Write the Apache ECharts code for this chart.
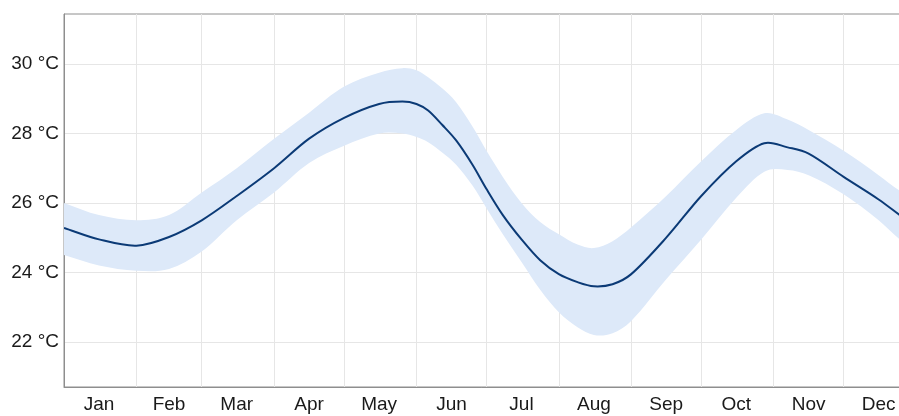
<!DOCTYPE html>
<html>
<head>
<meta charset="utf-8">
<title>Average temperature by day of year</title>
<script src="https://cdn.jsdelivr.net/npm/echarts@6/dist/echarts.min.js"></script>
<style>
  html, body { margin: 0; padding: 0; background: #fff; }
  #chart { width: 899px; height: 416px; }
</style>
</head>
<body>
<div id="chart"></div>
<script>
// Day of year (0 = 1 Jan) for each sampled point
const days = [0, 15, 31, 45, 59, 74, 90, 105, 120, 135, 145, 151, 156, 162, 168, 175, 181, 188, 196, 204, 212, 220, 227, 235, 243, 258, 273, 288, 300, 310, 319, 334, 349, 358, 365];

// Average daily temperature (°C)
const meanTemp = [25.28, 24.95, 24.77, 25.02, 25.5, 26.2, 27.0, 27.85, 28.45, 28.85, 28.92, 28.85, 28.66, 28.25, 27.8, 27.1, 26.4, 25.65, 24.95, 24.35, 23.95, 23.72, 23.6, 23.66, 23.95, 25.0, 26.2, 27.2, 27.72, 27.6, 27.42, 26.75, 26.1, 25.65, 25.3];

// Upper and lower edge of the typical range (°C)
const upperTemp = [26.0, 25.65, 25.5, 25.65, 26.3, 27.0, 27.85, 28.6, 29.35, 29.75, 29.88, 29.82, 29.62, 29.3, 28.9, 28.2, 27.5, 26.75, 26.0, 25.45, 25.1, 24.8, 24.7, 24.9, 25.3, 26.2, 27.2, 28.1, 28.58, 28.4, 28.1, 27.5, 26.8, 26.35, 26.1];
const lowerTemp = [24.5, 24.2, 24.05, 24.1, 24.6, 25.5, 26.3, 27.15, 27.65, 28.0, 28.0, 27.9, 27.75, 27.45, 27.1, 26.5, 25.85, 25.1, 24.3, 23.5, 22.85, 22.42, 22.2, 22.25, 22.6, 23.8, 24.95, 26.15, 26.9, 26.95, 26.8, 26.25, 25.5, 24.95, 24.6];

// Month names, where each month starts and where its label sits
const monthNames = ['Jan', 'Feb', 'Mar', 'Apr', 'May', 'Jun', 'Jul', 'Aug', 'Sep', 'Oct', 'Nov', 'Dec'];
const monthStarts = [0, 31, 59, 90, 120, 151, 181, 212, 243, 273, 304, 334, 365];
const monthMids = [15, 45, 74, 105, 135, 166, 196, 227, 258, 288, 319, 349];

// Y tick labels
const tempTicks = [22, 24, 26, 28, 30];

const FONT = "'Liberation Sans', Arial, sans-serif";

// Smooth curve through pixel points (cubic Hermite with central-difference
// tangents, written as cubic Bézier segments). `move` starts a new subpath.
function curvePath(pts, move) {
  const n = pts.length;
  const slope = i => {
    const a = pts[Math.max(0, i - 1)], b = pts[Math.min(n - 1, i + 1)];
    return (b[1] - a[1]) / (b[0] - a[0]);
  };
  let d = (move ? 'M' : 'L') + pts[0][0].toFixed(2) + ' ' + pts[0][1].toFixed(2);
  for (let i = 0; i < n - 1; i++) {
    const p = pts[i], q = pts[i + 1];
    const h = (q[0] - p[0]) / 3;
    const c1 = [p[0] + h, p[1] + slope(i) * h];
    const c2 = [q[0] - h, q[1] - slope(i + 1) * h];
    d += ' C' + c1.map(v => v.toFixed(2)).join(' ') + ' ' +
         c2.map(v => v.toFixed(2)).join(' ') + ' ' +
         q.map(v => v.toFixed(2)).join(' ');
  }
  return d;
}

function rangeItem(params, api) {
  if (params.dataIndex !== 0) return null;
  const up = days.map((d, i) => api.coord([d, upperTemp[i]]));
  const lo = days.map((d, i) => api.coord([d, lowerTemp[i]])).reverse();
  return {
    type: 'path',
    shape: { pathData: curvePath(up, true) + ' ' + curvePath(lo, false) + ' Z' },
    style: { fill: '#dde9f9', stroke: null }
  };
}

function meanItem(params, api) {
  if (params.dataIndex !== 0) return null;
  const pts = days.map((d, i) => api.coord([d, meanTemp[i]]));
  return {
    type: 'path',
    shape: { pathData: curvePath(pts, true) },
    style: { fill: null, stroke: '#0b3a76', lineWidth: 2, lineJoin: 'round' }
  };
}

const chart = echarts.init(document.getElementById('chart'), null, { renderer: 'canvas' });
chart.setOption({
  animation: false,
  backgroundColor: '#ffffff',
  grid: {
    left: 64, top: 14, bottom: 29, width: 852,
    outerBoundsMode: 'none',
    containLabel: false,
    show: true, borderColor: '#8e8e8e', borderWidth: 1, backgroundColor: 'transparent'
  },
  xAxis: {
    type: 'value',
    min: 0, max: 365,
    axisLine: { show: true, lineStyle: { color: '#8e8e8e', width: 1 } },
    axisTick: { show: false, customValues: monthStarts },
    splitLine: { show: true, lineStyle: { color: '#e6e6e6', width: 1 } },
    axisLabel: {
      customValues: monthMids,
      margin: 8,
      color: '#1a1a1a',
      fontFamily: FONT,
      fontSize: 19,
      formatter: v => monthNames[monthMids.indexOf(v)]
    }
  },
  yAxis: {
    type: 'value',
    min: 20.7, max: 31.44,
    axisLine: { show: true, lineStyle: { color: '#8e8e8e', width: 1 } },
    axisTick: { show: false, customValues: tempTicks },
    splitLine: { show: true, lineStyle: { color: '#e6e6e6', width: 1 } },
    axisLabel: {
      customValues: tempTicks,
      margin: 5,
      color: '#1a1a1a',
      fontFamily: FONT,
      fontSize: 19,
      formatter: '{value} °C'
    }
  },
  series: [
    {
      name: 'range',
      type: 'custom',
      renderItem: rangeItem,
      data: days.map((d, i) => [d, lowerTemp[i], upperTemp[i]]),
      encode: { x: 0, y: [1, 2] },
      clip: true,
      silent: true,
      z: 2
    },
    {
      name: 'mean',
      type: 'custom',
      renderItem: meanItem,
      data: days.map((d, i) => [d, meanTemp[i]]),
      encode: { x: 0, y: 1 },
      clip: true,
      silent: true,
      z: 3
    }
  ]
});
</script>
</body>
</html>
